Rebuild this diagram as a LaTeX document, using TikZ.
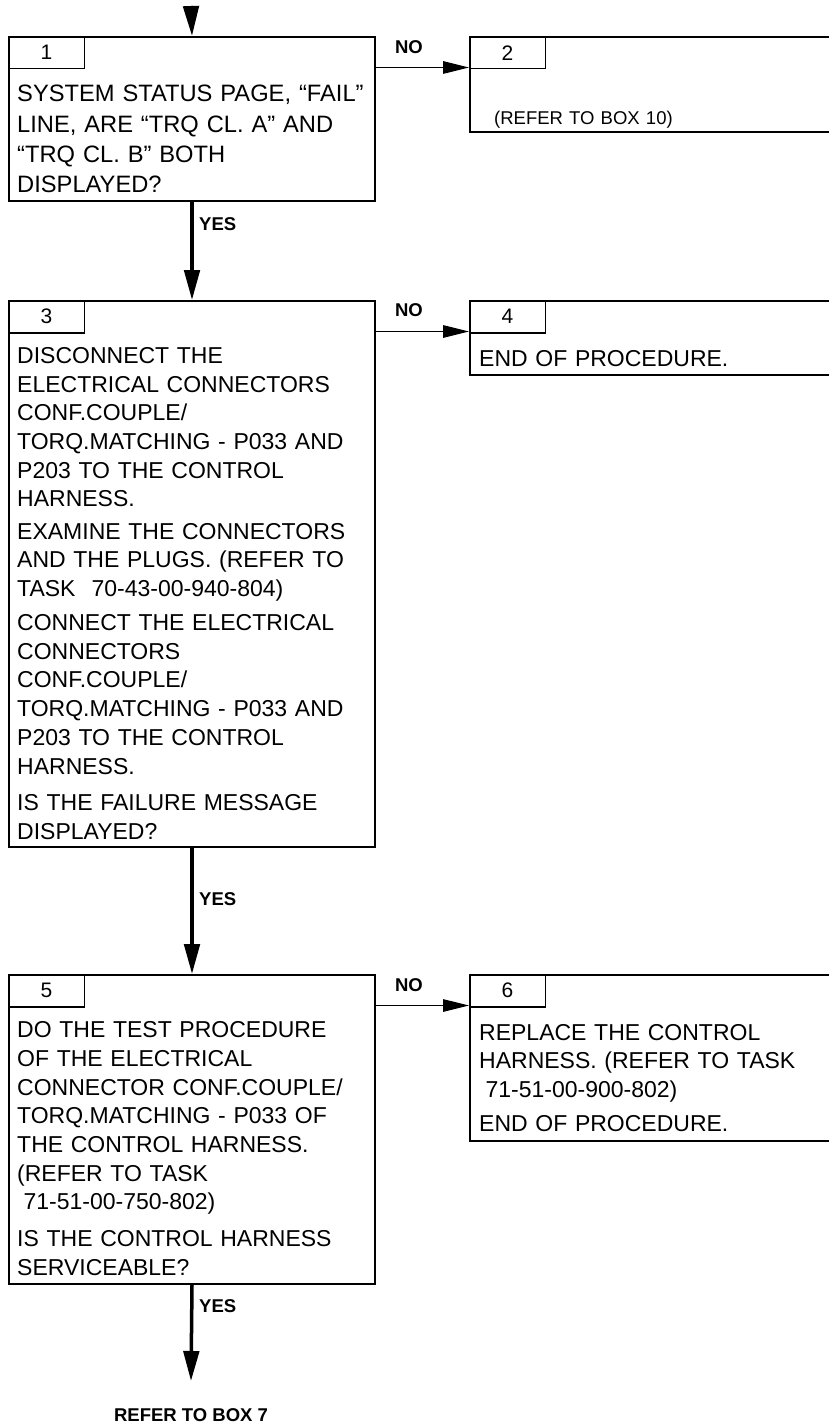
\documentclass[tikz,border=0pt]{standalone}
\usepackage{fontspec}
\setmainfont{Liberation Sans}
\usetikzlibrary{arrows.meta,positioning}

\begin{document}
\begin{tikzpicture}[x=1pt,y=1pt,
  box/.style={draw,line width=2pt,inner sep=0pt,anchor=north west},
  tab/.style={draw,line width=1.5pt,inner sep=0pt,anchor=north west,minimum width=75.5pt,minimum height=32pt,font=\fontsize{21}{21}\selectfont},
  txt/.style={anchor=base west,inner sep=0pt,text width=358pt,align=left,font=\fontsize{23}{28.7}\selectfont},
  lbl/.style={inner sep=0pt,font=\bfseries\fontsize{18.5}{18.5}\selectfont},
  yesarr/.style={-{Triangle[length=30pt,width=15.5pt]},line width=3.5pt},
  noarr/.style={-{Triangle[length=26pt,width=12.5pt]},line width=1.3pt}]
\useasboundingbox (0,0) rectangle (829,-1423);

\node[box,minimum width=366pt,minimum height=164pt] (b1) at (8,-36) {};
\node[box,minimum width=380pt,minimum height=95pt]  (b2) at (469,-36) {};
\node[box,minimum width=366pt,minimum height=546pt] (b3) at (8,-300) {};
\node[box,minimum width=380pt,minimum height=74pt]  (b4) at (469,-300) {};
\node[box,minimum width=366pt,minimum height=309pt] (b5) at (8,-974) {};
\node[box,minimum width=380pt,minimum height=166pt] (b6) at (469,-974) {};

\node[tab] (t1) at (b1.north west) {1};
\node[tab] (t2) at (b2.north west) {2};
\node[tab] (t3) at (b3.north west) {3};
\node[tab] (t4) at (b4.north west) {4};
\node[tab] (t5) at (b5.north west) {5};
\node[tab] (t6) at (b6.north west) {6};

\node[txt,font=\fontsize{23.7}{30.3}\selectfont] (x1) at (17,-102)
  {SYSTEM STATUS PAGE, “FAIL”\\LINE, ARE “TRQ CL. A” AND\\“TRQ CL. B” BOTH\\DISPLAYED?};
\node[txt,font=\fontsize{18.5}{18.5}\selectfont] (x2) at (494,-125) {(REFER TO BOX 10)};
\node[txt] (x3) at (17,-363.3)
  {DISCONNECT THE\\ELECTRICAL CONNECTORS\\CONF.COUPLE/\\TORQ.MATCHING - P033 AND\\P203 TO THE CONTROL\\HARNESS.\\[3.6pt]
   EXAMINE THE CONNECTORS\\AND THE PLUGS. (REFER TO\\TASK\hspace{16pt}70-43-00-940-804)\\[5.3pt]
   CONNECT THE ELECTRICAL\\CONNECTORS\\CONF.COUPLE/\\TORQ.MATCHING - P033 AND\\P203 TO THE CONTROL\\HARNESS.\\[8pt]
   IS THE FAILURE MESSAGE\\DISPLAYED?};
\node[txt] (x4) at (479,-366) {END OF PROCEDURE.};
\node[txt] (x5) at (17,-1037.7)
  {DO THE TEST PROCEDURE\\OF THE ELECTRICAL\\CONNECTOR CONF.COUPLE/\\TORQ.MATCHING - P033 OF\\THE CONTROL HARNESS.\\(REFER TO TASK\\\hspace*{6.4pt}71-51-00-750-802)\\[7.7pt]
   IS THE CONTROL HARNESS\\SERVICEABLE?};
\node[txt] (x6) at (479,-1040)
  {REPLACE THE CONTROL\\HARNESS. (REFER TO TASK\\\hspace*{6.4pt}71-51-00-900-802)\\[5.5pt]
   END OF PROCEDURE.};

\coordinate (in1) at (191,-6);
\coordinate (out5) at (191,-1381);
\draw[yesarr] (in1) -- (b1.north);
\draw[yesarr] (b1.south) -- (b3.north);
\draw[yesarr] (b3.south) -- (b5.north);
\draw[yesarr] (b5.south) -- (out5);
\draw[noarr] ([yshift=2pt]t1.south -| b1.east) -- ([yshift=2pt]t1.south -| b2.west);
\draw[noarr] ([yshift=2pt]t3.south -| b3.east) -- ([yshift=2pt]t3.south -| b4.west);
\draw[noarr] ([yshift=2pt]t5.south -| b5.east) -- ([yshift=2pt]t5.south -| b6.west);

\node[lbl] (no1) at (409,-47) {NO};
\node[lbl] (no3) at (409,-310.5) {NO};
\node[lbl] (no5) at (409,-985) {NO};
\node[lbl,anchor=west] (yes1) at (199,-224.5) {YES};
\node[lbl,anchor=west] (yes3) at (199,-899.5) {YES};
\node[lbl,anchor=west] (yes5) at (199,-1306.5) {YES};
\node[lbl,anchor=base] (ref7) at (191,-1421) {REFER TO BOX 7};
\end{tikzpicture}
\end{document}
